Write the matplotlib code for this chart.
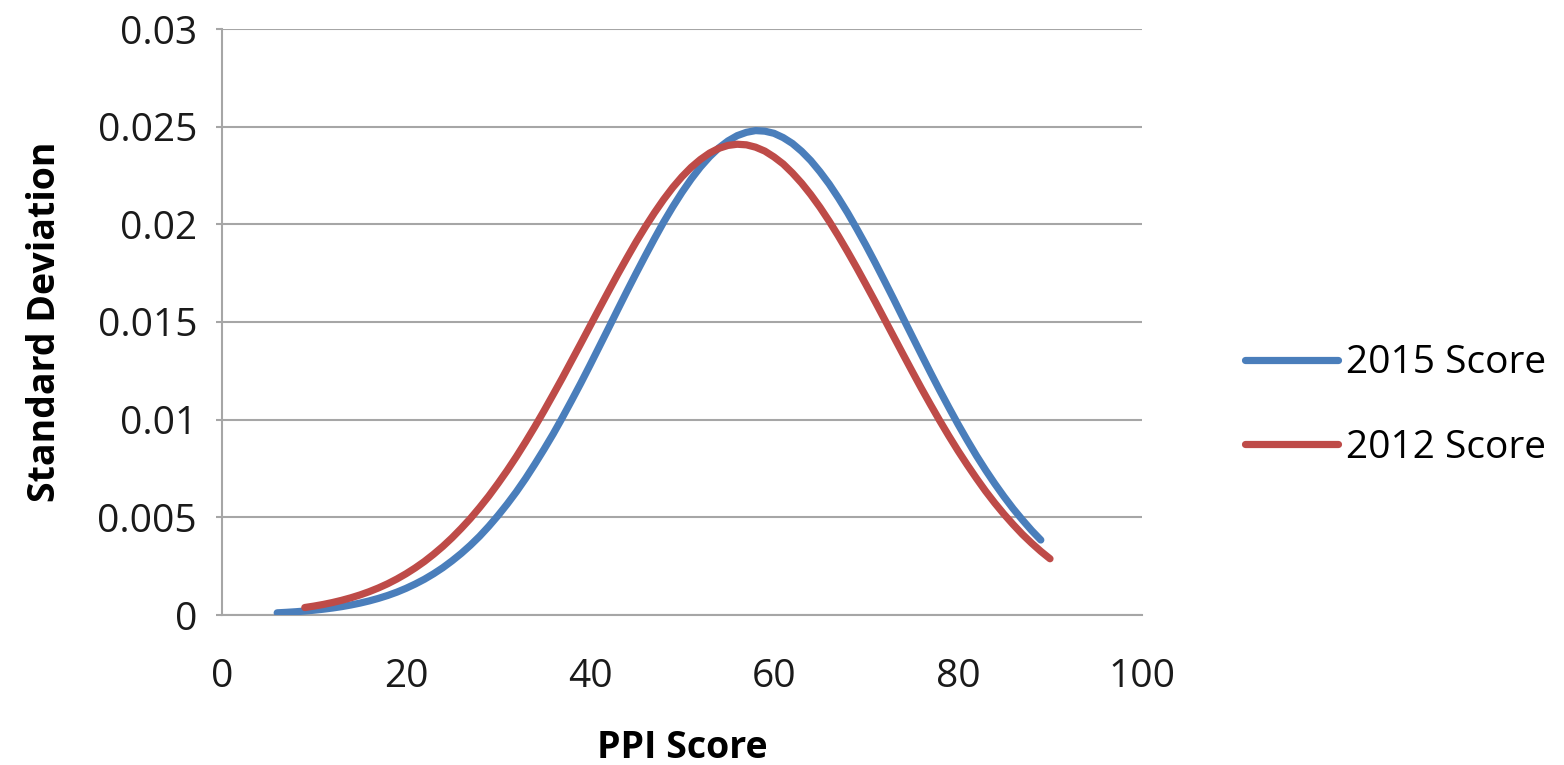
import matplotlib
matplotlib.use("Agg")
import matplotlib.pyplot as plt
from matplotlib.ticker import FuncFormatter

plt.rcParams['font.family'] = ['Open Sans', 'DejaVu Sans']

# values, one per score unit
x_2015 = list(range(6, 90))
y_2015 = [0.000111, 0.000136, 0.000166, 0.000203, 0.000246, 0.000297, 0.000357,
          0.000428, 0.000512, 0.000609, 0.000721, 0.000850, 0.000998, 0.001168,
          0.001364, 0.001585, 0.00183, 0.00211, 0.00242, 0.00277, 0.00315,
          0.00357, 0.00403, 0.00454, 0.00509, 0.00568, 0.00631, 0.00699,
          0.00772, 0.00848, 0.00927, 0.01011, 0.01098, 0.01187, 0.01279,
          0.01373, 0.01467, 0.01562, 0.01656, 0.01748, 0.01838, 0.01926,
          0.02011, 0.02090, 0.02164, 0.02232, 0.02293, 0.02346, 0.02391,
          0.02427, 0.02454, 0.02471, 0.02480, 0.02477, 0.02466, 0.02444,
          0.02414, 0.02374, 0.02326, 0.02269, 0.02206, 0.02135, 0.02059,
          0.01977, 0.01892, 0.01803, 0.01711, 0.01618, 0.01523, 0.01429,
          0.01335, 0.01242, 0.01151, 0.01063, 0.00977, 0.00895, 0.00816,
          0.00742, 0.00672, 0.00606, 0.00544, 0.00487, 0.00433, 0.00384]

x_2012 = list(range(9, 91))
y_2012 = [0.000383, 0.000456, 0.000540, 0.000638, 0.000751, 0.000880, 0.001027,
          0.001195, 0.001384, 0.001598, 0.00184, 0.00211, 0.00241, 0.00274,
          0.00311, 0.00351, 0.00395, 0.00443, 0.00494, 0.00550, 0.00609,
          0.00673, 0.00740, 0.00811, 0.00886, 0.00964, 0.01045, 0.01129,
          0.01214, 0.01302, 0.01390, 0.01479, 0.01568, 0.01656, 0.01743,
          0.01827, 0.01909, 0.01986, 0.02059, 0.02127, 0.02189, 0.02244,
          0.02292, 0.02332, 0.02365, 0.02389, 0.02404, 0.02410, 0.02407,
          0.02395, 0.02375, 0.02345, 0.02309, 0.02263, 0.02211, 0.02152,
          0.02087, 0.02016, 0.01940, 0.01860, 0.01777, 0.01691, 0.01604,
          0.01515, 0.01426, 0.01337, 0.01249, 0.01162, 0.01078, 0.00996,
          0.00917, 0.00841, 0.00769, 0.00700, 0.00634, 0.00573, 0.00516,
          0.00463, 0.00413, 0.00368, 0.00326, 0.00288]

x_ticks = [0, 20, 40, 60, 80, 100]
y_ticks = [0, 0.005, 0.01, 0.015, 0.02, 0.025, 0.03]

fig = plt.figure(figsize=(15.64, 7.65), dpi=100)
ax = fig.add_axes([222 / 1564, 150 / 765, 920 / 1564, 586 / 765])

grid_col = '#A6A6A6'
ax.plot(x_2015, y_2015, color='#4A7EBB', lw=5.2, solid_capstyle='round',
        solid_joinstyle='round', label='2015 Score', zorder=3)
ax.plot(x_2012, y_2012, color='#BE4B48', lw=5.2, solid_capstyle='round',
        solid_joinstyle='round', label='2012 Score', zorder=4)

ax.set_xlim(0, 100)
ax.set_ylim(0, 0.03)
ax.set_xticks(x_ticks)
ax.set_yticks(y_ticks)
ax.yaxis.set_major_formatter(FuncFormatter(lambda v, p: f"{v:g}"))

ax.grid(axis='y', color=grid_col, lw=1.5)
ax.set_axisbelow(True)
for s in ['top', 'right']:
    ax.spines[s].set_visible(False)
for s in ['left', 'bottom']:
    ax.spines[s].set_color(grid_col)
    ax.spines[s].set_linewidth(1.5)

ax.tick_params(axis='x', length=0, pad=31, labelsize=28, colors='#1a1a1a')
ax.tick_params(axis='y', length=4, width=1.5, color=grid_col, pad=14,
               labelsize=28, labelcolor='#1a1a1a')

ax.set_xlabel('PPI Score', fontsize=27, fontweight='bold', labelpad=24)
ax.set_ylabel('Standard Deviation', fontsize=27, fontweight='bold', labelpad=24)

fig.legend(loc='center left', bbox_to_anchor=(1245 / 1564, 1 - 405.5 / 765),
           frameon=False, fontsize=28, handlelength=2.4, handletextpad=0.2,
           labelspacing=1.2, borderpad=0, borderaxespad=0)

fig.savefig('out.png', dpi=100)
